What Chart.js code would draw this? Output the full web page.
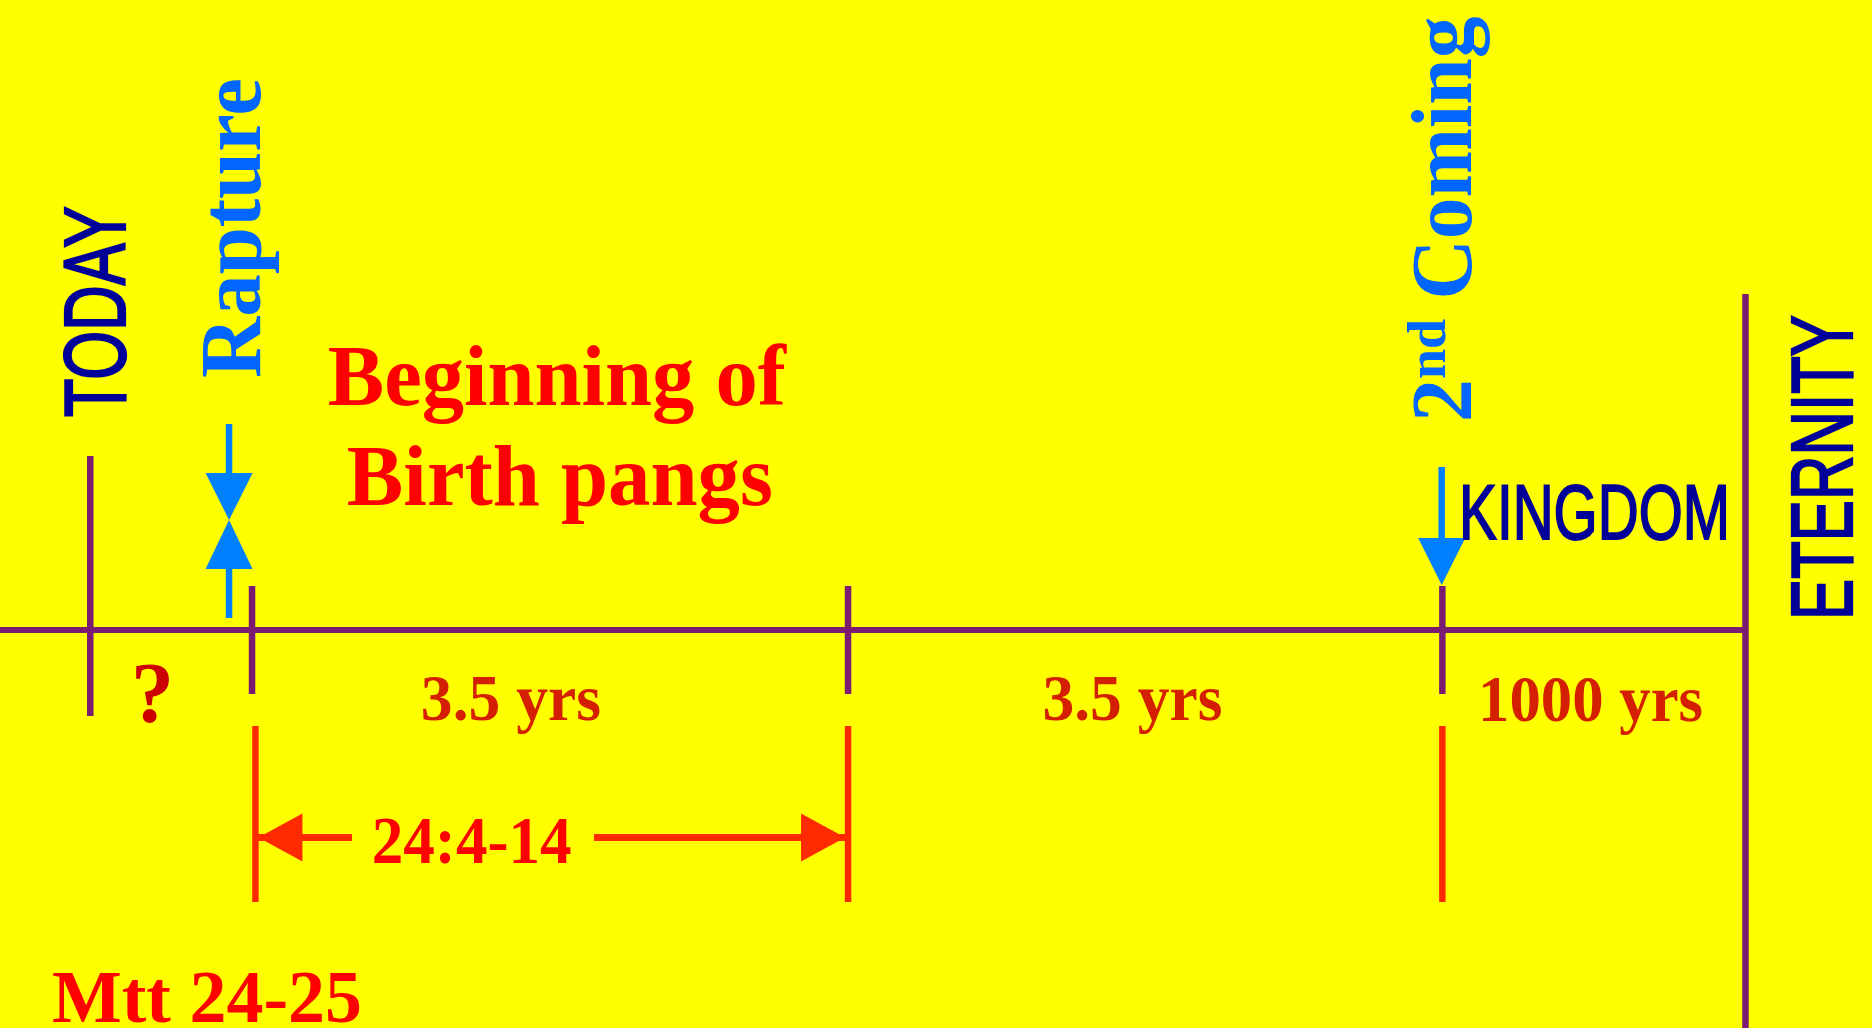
<!DOCTYPE html>
<html>
<head>
<meta charset="utf-8">
<script src="https://cdn.jsdelivr.net/npm/chart.js@4.4.0/dist/chart.umd.min.js"></script>
<style>
  html, body { margin: 0; padding: 0; background: #FFFF00; overflow: hidden; }
  #wrap { width: 1872px; height: 1028px; }
  canvas { display: block; }
</style>
</head>
<body>
<div id="wrap"><canvas id="c" width="1872" height="1028"></canvas></div>
<script>
// ---------------- data (timeline units: 3.5 = one half of the week) ----------------
const events        = ['TODAY', 'Rapture', 'Midpoint', '2nd Coming', 'Eternity'];
const eventPos      = [-0.95, 0, 3.5, 6.99, 8.77];
const periodLabels  = ['?', '3.5 yrs', '3.5 yrs', '1000 yrs'];
const periodLabelPos = [-0.585, 1.52, 5.17, 7.86];
const guidePos      = [0.02, 3.5, 6.99];
const passageLabel  = '24:4-14';
const passageRange  = [0.02, 3.5];
const passageLabelPos = 1.29;
const passageGap    = [0.587, 2.008];
const headline      = ['Beginning of', 'Birth pangs'];
const headlinePos   = 1.79;
const kingdomLabel  = 'KINGDOM';
const kingdomPos    = 7.088;
const footerLabel   = 'Mtt 24-25';
const footerPos     = -1.175;
const raptureArrowPos = -0.135;
const comingArrowPos  = 6.986;
const xRange        = [-1.48, 9.513];

// ---------------- layout / style ----------------
const C = {
  purple: '#7B1C72', navy: '#000099', blue: '#0066FF', arrowBlue: '#0080FF',
  red: '#FF0000', darkRed: '#D42000', qRed: '#CC0000', guideRed: '#FF2A00'
};
const L = {
  lineY: 630, todayTick: [456, 716], eventTick: [586, 694], eternity: [294, 1028],
  guide: [726, 902], passageY: 837.5,
  rapUp: [424, 473], rapDown: [569, 618], rapTip: 520,
  comShaft: [467, 538], comTip: 585
};
const SERIF = '"Liberation Serif", "Times New Roman", serif';
const SANS = '"Liberation Sans Narrow", "Liberation Sans", Arial, sans-serif';

function seg(x1, y1, x2, y2, color, width) {
  return {
    data: [{x: x1, y: y1}, {x: x2, y: y2}],
    showLine: true, borderColor: color, borderWidth: width,
    pointRadius: 0, pointHoverRadius: 0, fill: false, borderCapStyle: 'butt'
  };
}

const datasets = [];
// main timeline
datasets.push(seg(xRange[0], L.lineY, eventPos[4], L.lineY, C.purple, 6));
// event ticks
eventPos.forEach((p, i) => {
  let r = L.eventTick;
  if (i === 0) r = L.todayTick;
  if (i === 4) r = L.eternity;
  datasets.push(seg(p, r[0], p, r[1], C.purple, 6.5));
});
// red guides
guidePos.forEach(p => datasets.push(seg(p, L.guide[0], p, L.guide[1], C.guideRed, 6.5)));
// passage arrow shafts
datasets.push(seg(passageRange[0], L.passageY, passageGap[0], L.passageY, C.guideRed, 7));
datasets.push(seg(passageGap[1], L.passageY, passageRange[1], L.passageY, C.guideRed, 7));
// blue arrow shafts
datasets.push(seg(raptureArrowPos, L.rapUp[0], raptureArrowPos, L.rapUp[1], C.arrowBlue, 6.5));
datasets.push(seg(raptureArrowPos, L.rapDown[0], raptureArrowPos, L.rapDown[1], C.arrowBlue, 6.5));
datasets.push(seg(comingArrowPos, L.comShaft[0], comingArrowPos, L.comShaft[1], C.arrowBlue, 6.5));

function tri(ctx, tx, ty, dir, len, half, color) {
  ctx.beginPath();
  ctx.moveTo(tx, ty);
  if (dir === 'down') { ctx.lineTo(tx - half, ty - len); ctx.lineTo(tx + half, ty - len); }
  if (dir === 'up')   { ctx.lineTo(tx - half, ty + len); ctx.lineTo(tx + half, ty + len); }
  if (dir === 'left') { ctx.lineTo(tx + len, ty - half); ctx.lineTo(tx + len, ty + half); }
  if (dir === 'right'){ ctx.lineTo(tx - len, ty - half); ctx.lineTo(tx - len, ty + half); }
  ctx.closePath();
  ctx.fillStyle = color;
  ctx.fill();
}

// draws text compressed to a target width, optionally thickened with a stroke
function drawFit(ctx, text, x, y, maxW, stroke) {
  const mw = ctx.measureText(text).width;
  const s = (maxW && mw > maxW) ? maxW / mw : 1;
  ctx.save();
  const align = ctx.textAlign;
  let ox = 0;
  if (align === 'center') ox = -mw / 2;
  else if (align === 'right') ox = -mw;
  ctx.translate(x, y);
  ctx.scale(s, 1);
  ctx.textAlign = 'left';
  ctx.fillText(text, ox, 0);
  if (stroke) {
    ctx.lineWidth = stroke / s;
    ctx.lineJoin = 'miter';
    ctx.strokeStyle = ctx.fillStyle;
    ctx.save();
    ctx.scale(1, 1);
    ctx.restore();
    // stroke mostly horizontally thickening the vertical stems
    ctx.setTransform(ctx.getTransform());
    ctx.strokeText(text, ox, 0);
  }
  ctx.restore();
}

function vtext(ctx, text, bx, cy, font, color, maxW, stroke) {
  ctx.save();
  ctx.translate(bx, cy);
  ctx.rotate(-Math.PI / 2);
  ctx.font = font;
  ctx.fillStyle = color;
  ctx.textAlign = 'center';
  ctx.textBaseline = 'alphabetic';
  drawFit(ctx, text, 0, 0, maxW, stroke);
  ctx.restore();
}

function htext(ctx, text, x, y, font, color, align, maxW, stroke) {
  ctx.save();
  ctx.font = font;
  ctx.fillStyle = color;
  ctx.textAlign = align;
  ctx.textBaseline = 'alphabetic';
  drawFit(ctx, text, x, y, maxW, stroke);
  ctx.restore();
}

const bgPlugin = {
  id: 'bg',
  beforeDraw(chart) {
    const ctx = chart.ctx;
    ctx.save();
    ctx.fillStyle = '#FFFF00';
    ctx.fillRect(0, 0, chart.width, chart.height);
    ctx.restore();
  }
};

const annot = {
  id: 'annot',
  afterDatasetsDraw(chart) {
    const ctx = chart.ctx;
    const X = v => chart.scales.x.getPixelForValue(v);
    const Y = v => chart.scales.y.getPixelForValue(v);

    // blue arrowheads
    tri(ctx, X(raptureArrowPos), Y(L.rapTip), 'down', 47, 23.5, C.arrowBlue);
    tri(ctx, X(raptureArrowPos), Y(L.rapTip), 'up', 49, 23.5, C.arrowBlue);
    tri(ctx, X(comingArrowPos), Y(L.comTip), 'down', 47, 23.5, C.arrowBlue);
    // red passage arrowheads
    tri(ctx, X(passageRange[0]) + 3, Y(L.passageY), 'left', 44, 24, C.guideRed);
    tri(ctx, X(passageRange[1]) - 3, Y(L.passageY), 'right', 44, 24, C.guideRed);

    // vertical labels
    vtext(ctx, events[0], X(eventPos[0]) + 35, 311.5, '88px ' + SANS, C.navy, 211, 1.6);
    vtext(ctx, events[1], X(eventPos[1]) + 8, 228, 'bold 86px ' + SERIF, C.blue, 300);
    vtext(ctx, 'ETERNITY', X(eventPos[4]) + 107, 467.5, '88px ' + SANS, C.navy, 305, 1.6);

    // 2nd Coming (with superscript)
    ctx.save();
    ctx.translate(X(eventPos[3]) + 29, 422);
    ctx.rotate(-Math.PI / 2);
    ctx.textAlign = 'left';
    ctx.textBaseline = 'alphabetic';
    ctx.fillStyle = C.blue;
    ctx.font = 'bold 86px ' + SERIF;
    ctx.fillText('2', 0, 0);
    let w = ctx.measureText('2').width;
    ctx.font = 'bold 54px ' + SERIF;
    ctx.fillText('nd', w, -26);
    w += ctx.measureText('nd').width;
    ctx.font = 'bold 86px ' + SERIF;
    w += ctx.measureText(' ').width * 0.9;
    ctx.fillText('Coming', w, 0, 283);
    ctx.restore();

    // headline
    htext(ctx, headline[0], X(headlinePos), 405, 'bold 86px ' + SERIF, C.red, 'center', 458);
    htext(ctx, headline[1], X(headlinePos) + 3, 505, 'bold 86px ' + SERIF, C.red, 'center', 426);

    // KINGDOM
    htext(ctx, kingdomLabel, X(kingdomPos), 539, '77px ' + SANS, C.navy, 'left', 271, 1.4);

    // period labels
    htext(ctx, periodLabels[0], X(periodLabelPos[0]), 722, 'bold 86px ' + SERIF, C.qRed, 'center');
    htext(ctx, periodLabels[1], X(periodLabelPos[1]), 720, 'bold 66px ' + SERIF, C.darkRed, 'center', 180);
    htext(ctx, periodLabels[2], X(periodLabelPos[2]), 720, 'bold 66px ' + SERIF, C.darkRed, 'center', 180);
    htext(ctx, periodLabels[3], X(periodLabelPos[3]), 721, 'bold 66px ' + SERIF, C.darkRed, 'center', 225);

    // passage label
    htext(ctx, passageLabel, X(passageLabelPos), 863, 'bold 67px ' + SERIF, C.red, 'center', 200);

    // footer
    htext(ctx, footerLabel, X(footerPos), 1022, 'bold 75px ' + SERIF, C.red, 'left', 310);
  }
};

new Chart(document.getElementById('c'), {
  type: 'scatter',
  data: { datasets },
  options: {
    responsive: false,
    animation: false,
    events: [],
    layout: { padding: 0 },
    plugins: { legend: { display: false }, tooltip: { enabled: false } },
    scales: {
      x: { type: 'linear', min: xRange[0], max: xRange[1], display: false },
      y: { type: 'linear', min: 0, max: 1028, reverse: true, display: false }
    }
  },
  plugins: [bgPlugin, annot]
});
</script>
</body>
</html>
